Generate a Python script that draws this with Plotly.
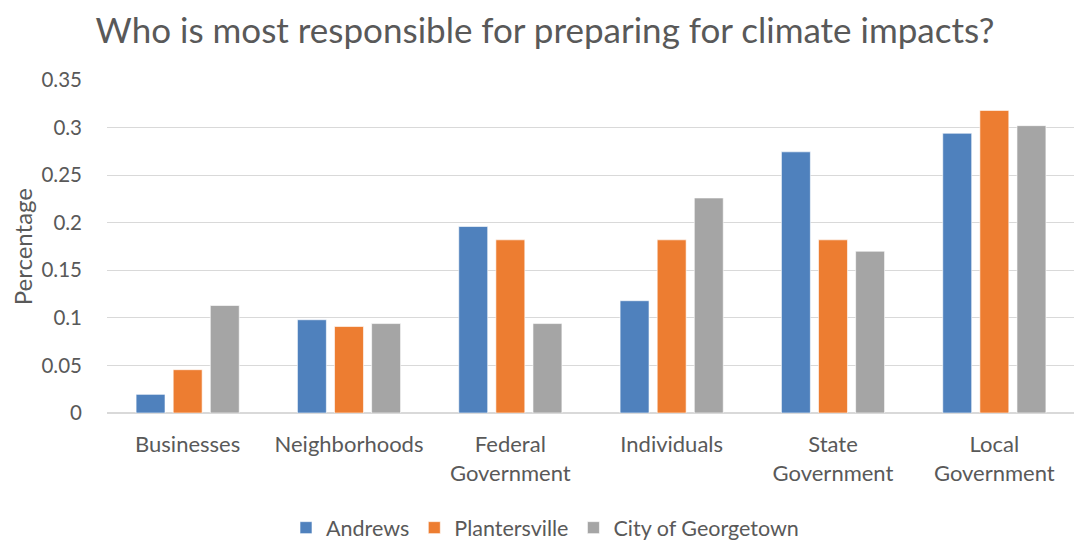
import plotly.graph_objects as go

# Data
categories = ["Businesses", "Neighborhoods", "Federal<br>Government",
              "Individuals", "State<br>Government", "Local<br>Government"]
andrews = [0.0196, 0.098, 0.196, 0.118, 0.2745, 0.294]
plantersville = [0.0455, 0.0909, 0.182, 0.182, 0.182, 0.318]
georgetown = [0.113, 0.094, 0.094, 0.226, 0.170, 0.302]

BLUE = "#4F81BD"
ORANGE = "#ED7D31"
GREY = "#A5A5A5"
TEXT = "#595959"
FONT = "Lato"

fig = go.Figure()
for name, vals, col in [("Andrews", andrews, BLUE),
                        ("Plantersville", plantersville, ORANGE),
                        ("City of Georgetown", georgetown, GREY)]:
    fig.add_trace(go.Bar(
        x=categories, y=vals, name=name,
        marker=dict(color=col, line=dict(color="rgba(255,255,255,0.6)", width=1)),
        hovertemplate="%{x}: %{y:.3f}<extra>" + name + "</extra>",
    ))

# page body has an 8px margin, so the figure is sized a little smaller
fig.update_layout(
    title=dict(text="Who is most responsible for preparing for climate impacts?",
               x=0.5, xanchor="center", y=0.958, yanchor="middle",
               font=dict(family=FONT, size=35, color=TEXT)),
    barmode="group",
    bargap=0.31,
    bargroupgap=0.22,
    plot_bgcolor="white",
    paper_bgcolor="white",
    width=1074, height=533,
    margin=dict(l=99, r=7, t=72, b=128),
    font=dict(family=FONT, size=20, color=TEXT),
    legend=dict(orientation="h", xref="container", yref="container",
                x=0.5, xanchor="center", y=0.025, yanchor="middle",
                font=dict(size=21.5, color=TEXT), traceorder="normal"),
    yaxis=dict(range=[0, 0.35], dtick=0.05, showgrid=True, gridcolor="#D9D9D9",
               gridwidth=1, zeroline=True, zerolinecolor="#D9D9D9",
               tickformat="~r", ticks="", ticklabelstandoff=24,
               tickfont=dict(size=20.5, color=TEXT), automargin=False),
    xaxis=dict(showgrid=False, showline=False, ticks="", ticklabelstandoff=16,
               tickfont=dict(size=22, color=TEXT), automargin=False),
    annotations=[dict(text="Percentage", xref="paper", yref="paper",
                      x=-0.087, y=0.5, xanchor="center", yanchor="middle",
                      textangle=-90, showarrow=False,
                      font=dict(family=FONT, size=24, color=TEXT))],
)

fig.write_html("out.html")
